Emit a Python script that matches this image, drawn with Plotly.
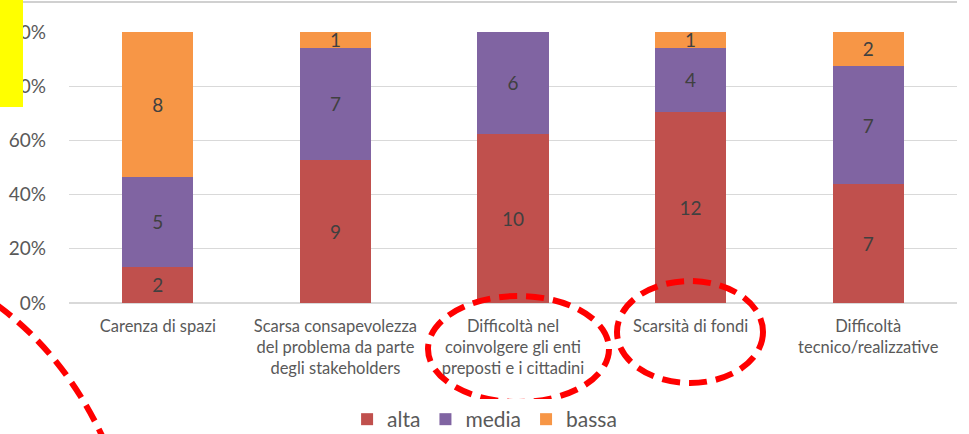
import plotly.graph_objects as go

categorie = ["Carenza di spazi",
             "Scarsa consapevolezza<br>del problema da parte<br>degli stakeholders",
             "Difficoltà nel<br>coinvolgere gli enti<br>preposti e i cittadini",
             "Scarsità di fondi",
             "Difficoltà<br>tecnico/realizzative"]
alta = [2, 9, 10, 12, 7]
media = [5, 7, 6, 4, 7]
bassa = [8, 1, 0, 1, 2]

colori = {"alta": "#C0504D", "media": "#8064A2", "bassa": "#F79646"}
FONT = "Lato, Calibri, sans-serif"

W, H = 969, 434
L, R, T, B = 69, 12, 32, 131


def px(x, y):
    # pixel -> paper coordinates (for the overlay decorations)
    return (x - L) / (W - L - R), (H - B - y) / (H - T - B)


fig = go.Figure()
for nome, valori in [("alta", alta), ("media", media), ("bassa", bassa)]:
    fig.add_trace(go.Bar(
        x=categorie, y=valori, name=nome,
        marker=dict(color=colori[nome], line=dict(width=0)),
        text=[str(v) if v else "" for v in valori],
        textposition="inside", insidetextanchor="middle",
        constraintext="none", textangle=0,
        textfont=dict(family=FONT, size=19, color="#404040"),
        width=0.4,
    ))

fig.update_layout(
    width=W, height=H,
    barmode="stack", barnorm="fraction",
    margin=dict(l=L, r=R, t=T, b=B, autoexpand=False),
    paper_bgcolor="white", plot_bgcolor="white",
    font=dict(family=FONT, color="#595959"),
    showlegend=True,
    legend=dict(orientation="h", x=0.468, xanchor="center", y=-0.43, yanchor="middle",
                font=dict(size=21, color="#595959"), itemwidth=30, traceorder="normal"),
)
fig.update_yaxes(range=[0, 1], tickvals=[0, 0.2, 0.4, 0.6, 0.8, 1.0], tickformat=".0%",
                 showgrid=True, gridcolor="#D9D9D9", gridwidth=1, automargin=False,
                 zeroline=True, zerolinecolor="#D9D9D9", showline=False,
                 tickfont=dict(size=19, color="#595959"), ticklabelstandoff=22)
fig.update_xaxes(showgrid=False, showline=False, tickangle=0, automargin=False,
                 tickfont=dict(size=16.5, color="#595959"), ticklabelstandoff=11)

shapes = []
# top border line
x0, y0 = px(0, 2)
x1, _ = px(957, 2)
shapes.append(dict(type="line", xref="paper", yref="paper", x0=x0, y0=y0, x1=x1, y1=y0,
                   line=dict(color="#D0D0D0", width=2), layer="above"))
# yellow box
x0, y0 = px(0, 0)
x1, y1 = px(23, 107)
shapes.append(dict(type="rect", xref="paper", yref="paper", x0=x0, y0=y0, x1=x1, y1=y1,
                   fillcolor="#FFFF00", line=dict(width=0), layer="above"))
# dashed red ellipses
for (ax, ay, bx, by) in [(428, 296, 609, 402), (617, 281, 763, 383)]:
    x0, y0 = px(ax, ay)
    x1, y1 = px(bx, by)
    shapes.append(dict(type="circle", xref="paper", yref="paper", x0=x0, y0=y0, x1=x1, y1=y1,
                       line=dict(color="#FF0000", width=6, dash="18px,9px"), layer="above"))
# dashed red arc bottom-left
pa = px(-3, 305)
pc = px(65, 355)
pb = px(104, 440)
shapes.append(dict(type="path", xref="paper", yref="paper",
                   path=f"M {pa[0]},{pa[1]} Q {pc[0]},{pc[1]} {pb[0]},{pb[1]}",
                   line=dict(color="#FF0000", width=6, dash="18px,9px"), layer="above"))
fig.update_layout(shapes=shapes)

fig.write_html("out.html", config={"displayModeBar": False},
               post_script="document.body.style.margin='0';")
